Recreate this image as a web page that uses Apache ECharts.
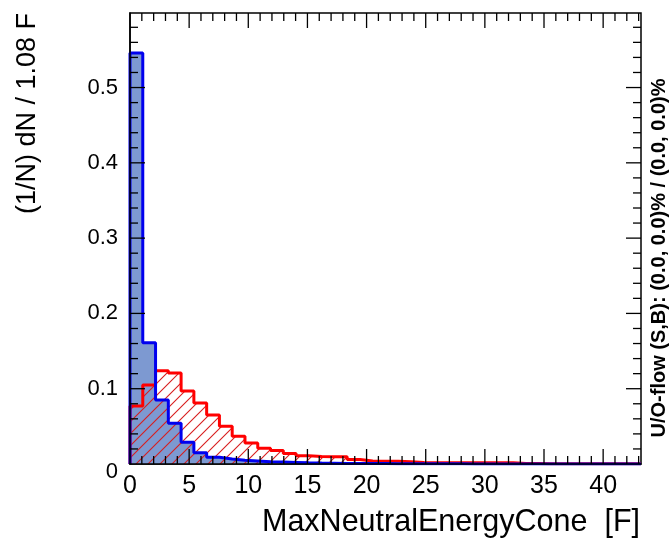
<!DOCTYPE html>
<html><head><meta charset="utf-8">
<script src="https://cdn.jsdelivr.net/npm/echarts@6/dist/echarts.min.js"></script>
<style>html,body{margin:0;padding:0;background:#fff}#c{width:669px;height:542px}</style>
</head><body><div id="c"></div>
<script>
// ---- data ----
const binWidth = 1.08;
const xMax = 43.2;
const yMax = 0.599;
const signal = [0.546, 0.161, 0.085, 0.054, 0.029, 0.015, 0.009, 0.0065, 0.005, 0.004,
                0.003, 0.0025, 0.002, 0.0015, 0.0012, 0.001, 0.0008, 0.0007, 0.0006, 0.0005,
                0.0004, 0.0004, 0.0003, 0.0003, 0.0002, 0.0002, 0.0001, 0.0001, 0.0001, 0.0001,
                0.0001, 0.0001, 0, 0, 0, 0, 0, 0, 0, 0];
const background = [0.077, 0.105, 0.124, 0.121, 0.097, 0.081, 0.065, 0.050, 0.037, 0.028,
                    0.021, 0.018, 0.014, 0.011, 0.010, 0.0095, 0.0095, 0.006, 0.004, 0.0035,
                    0.0035, 0.003, 0.002, 0.0018, 0.0015, 0.0015, 0.0015, 0.0015, 0.0015, 0.0015,
                    0.0006, 0.0005, 0.0004, 0.0004, 0.0003, 0.0003, 0.0003, 0.0002, 0.0002, 0.0002];
const xTickLabels = ['0', '5', '10', '15', '20', '25', '30', '35', '40'];
const yTickLabels = ['0', '0.1', '0.2', '0.3', '0.4', '0.5'];
const xTitle = 'MaxNeutralEnergyCone  [F]';
const yTitle = '(1/N) dN / 1.08 F';
const flowText = 'U/O-flow (S,B): (0.0, 0.0)% / (0.0, 0.0)%';

// ---- helpers ----
function stepData(vals) {
  const d = [[0, 0]];
  vals.forEach((v, i) => d.push([i * binWidth, v]));
  d.push([vals.length * binWidth, vals[vals.length - 1]]);
  d.push([vals.length * binWidth, 0]);
  return d;
}
const FONT = '"Liberation Sans", Arial, Helvetica, sans-serif';

const pc = document.createElement('canvas');
pc.width = 12; pc.height = 12;
const g = pc.getContext('2d');
g.strokeStyle = '#d81e1e'; g.lineWidth = 1.1;
g.beginPath();
g.moveTo(0, 12); g.lineTo(12, 0);
g.moveTo(-6, 6); g.lineTo(6, -6);
g.moveTo(6, 18); g.lineTo(18, 6);
g.stroke();

const xFmt = v => {
  const s = xTickLabels.find(t => Math.abs(parseFloat(t) - v) < 1e-6);
  return s === undefined ? '' : s;
};
const yFmt = v => {
  const s = yTickLabels.find(t => Math.abs(parseFloat(t) - v) < 1e-6);
  if (s === undefined) return '';
  return s === '0' ? '{z|0}' : s;
};

// inward frame ticks on all four edges: [x, y, edge, major]; edge 0 bottom, 1 top, 2 left, 3 right
const frameTicks = [];
for (let i = 1; i <= 43; i++) {
  const major = i % 5 === 0 ? 1 : 0;
  frameTicks.push([i, 0, 0, major], [i, yMax, 1, major]);
}
for (let j = 1; j <= 29; j++) {
  const v = j * 0.02;
  const major = j % 5 === 0 ? 1 : 0;
  frameTicks.push([0, v, 2, major], [xMax, v, 3, major]);
}
function renderTick(params, api) {
  const p = api.coord([api.value(0), api.value(1)]);
  const edge = api.value(2);
  const len = api.value(3) ? 15 : 8;
  let x2 = p[0], y2 = p[1];
  if (edge === 0) y2 -= len; else if (edge === 1) y2 += len;
  else if (edge === 2) x2 += len; else x2 -= len;
  return { type: 'line', shape: { x1: p[0], y1: p[1], x2: x2, y2: y2 },
           style: { stroke: '#000', lineWidth: 1.3 } };
}

const xLabelAxis = {
  type: 'value', min: 0, max: xMax, interval: 5, position: 'bottom', z: 10,
  axisLine: { show: true, lineStyle: { color: '#000', width: 1.5 } },
  axisTick: { show: false },
  axisLabel: { show: true, color: '#000', fontSize: 25, fontFamily: FONT, margin: 10, formatter: xFmt, showMaxLabel: false },
  splitLine: { show: false }
};
const yLabelAxis = {
  type: 'value', min: 0, max: yMax, interval: 0.1, position: 'left', z: 10,
  axisLine: { show: true, lineStyle: { color: '#000', width: 1.5 } },
  axisTick: { show: false },
  axisLabel: { show: true, color: '#000', fontSize: 22, fontFamily: FONT, margin: 12, formatter: yFmt, showMaxLabel: false,
    rich: { z: { fontSize: 22, fontFamily: FONT, color: '#000', padding: [16, 0, 0, 0] } } },
  splitLine: { show: false }
};

const chart = echarts.init(document.getElementById('c'), null, { renderer: 'canvas' });
chart.setOption({
  animation: false,
  backgroundColor: '#fff',
  grid: { left: 130, right: 28, top: 13, bottom: 78, show: true, borderColor: '#000', borderWidth: 1.5, backgroundColor: 'transparent' },
  xAxis: [xLabelAxis],
  yAxis: [yLabelAxis],
  series: [
    { type: 'line', name: 'S fill', step: 'end', data: stepData(signal), symbol: 'none',
      lineStyle: { width: 0, color: '#7d99d1' }, areaStyle: { color: '#7d99d1', opacity: 1 }, z: 2 },
    { type: 'line', name: 'B', step: 'end', data: stepData(background), symbol: 'none',
      lineStyle: { width: 3, color: '#ff0000' }, areaStyle: { color: { image: pc, repeat: 'repeat' }, opacity: 1 }, z: 3 },
    { type: 'line', name: 'S', step: 'end', data: stepData(signal), symbol: 'none',
      lineStyle: { width: 3, color: '#0000ee' }, z: 4 },
    { type: 'custom', name: 'frame ticks', data: frameTicks, renderItem: renderTick, silent: true, z: 10,
      clip: false, encode: { x: 0, y: 1 } }
  ],
  graphic: [
    { type: 'text', right: 29, top: 507, style: { text: xTitle, font: '30.5px ' + FONT, fill: '#000' } },
    { type: 'text', x: 28, y: 13, rotation: Math.PI / 2,
      style: { text: yTitle, font: '27px ' + FONT, fill: '#000', align: 'right', verticalAlign: 'middle', textAlign: 'right', textVerticalAlign: 'middle' } },
    { type: 'text', x: 659, y: 258, rotation: Math.PI / 2,
      style: { text: flowText, font: 'bold 20px ' + FONT, fill: '#000', align: 'center', verticalAlign: 'middle', textAlign: 'center', textVerticalAlign: 'middle' } }
  ]
});
</script></body></html>
